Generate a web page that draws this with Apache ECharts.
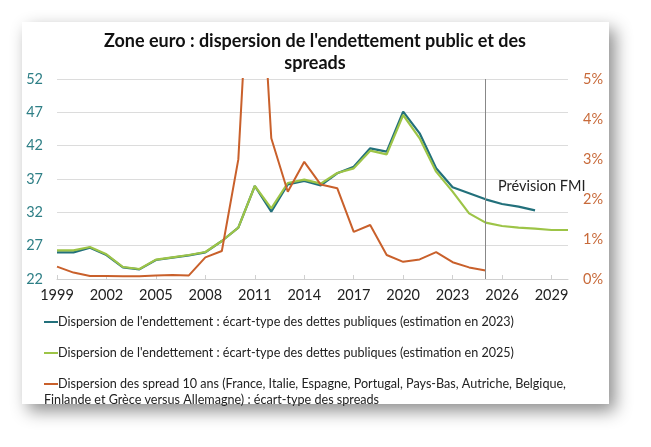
<!DOCTYPE html>
<html>
<head>
<meta charset="utf-8">
<script src="https://cdn.jsdelivr.net/npm/echarts@6/dist/echarts.min.js"></script>
<style>
  html, body { margin: 0; padding: 0; background: #fff; }
  #main { width: 651px; height: 447px; }
</style>
</head>
<body>
<div id="main"></div>
<script>
const years = []
for (let y = 1999; y <= 2030; y++) years.push(String(y))

// dispersion de l'endettement, estimation 2023 (ends 2028), index 0 = 1999
const debt2023 = [26.0, 26.0, 26.7, 25.6, 23.75, 23.45, 24.85, 25.2, 25.55, 26.0,
  27.7, 29.7, 35.95, 32.1, 36.2, 36.7, 36.05, 37.85, 38.85, 41.6,
  41.1, 47.1, 43.85, 38.6, 35.75, 34.85, 33.95, 33.25, 32.85, 32.3, null, null]
// dispersion de l'endettement, estimation 2025
const debt2025 = [26.3, 26.3, 26.8, 25.7, 23.8, 23.5, 24.9, 25.25, 25.6, 26.05,
  27.7, 29.7, 35.95, 32.6, 36.4, 36.9, 36.3, 37.9, 38.6, 41.25,
  40.7, 46.6, 43.1, 38.1, 35.1, 31.85, 30.45, 29.95, 29.7, 29.55, 29.35, 29.35]
// spreads 10 ans (%)
const spreads = [0.31, 0.16, 0.075, 0.075, 0.07, 0.07, 0.09, 0.1, 0.09, 0.54,
  0.7, 2.99, 10.5, 3.52, 2.18, 2.93, 2.36, 2.27, 1.18, 1.35,
  0.6, 0.43, 0.49, 0.67, 0.42, 0.29, 0.21, null, null, null, null, null]

const names = [
  "Dispersion de l'endettement : écart-type des dettes publiques (estimation en 2023)",
  "Dispersion de l'endettement : écart-type des dettes publiques (estimation en 2025)",
  "Dispersion des spread 10 ans (France, Italie, Espagne, Portugal, Pays-Bas, Autriche, Belgique,\nFinlande et Grèce versus Allemagne) : écart-type des spreads"
]
const colors = ['#22707B', '#9DC447', '#C9602B']

const font = 'Lato, "Open Sans", sans-serif'
const myChart = echarts.init(document.getElementById('main'))

const option = {
  animation: false,
  textStyle: { fontFamily: font },
  graphic: [
    {
      type: 'rect',
      left: 22, top: 22, z: -10,
      shape: { width: 587, height: 382 },
      style: { fill: '#fff', shadowBlur: 16, shadowOffsetX: 6, shadowOffsetY: 7, shadowColor: 'rgba(0,0,0,0.45)' }
    },
    {
      type: 'text',
      x: 315, y: 30,
      style: {
        text: "Zone euro : dispersion de l'endettement public et des\nspreads",
        font: 'bold 18px ' + font, fill: '#111', align: 'center', lineHeight: 22
      }
    },
    {
      type: 'text',
      left: 498, top: 179,
      style: { text: 'Prévision FMI', font: '14.5px ' + font, fill: '#222' }
    }
  ],
  grid: { left: 57, right: 83, top: 79, bottom: 168 },
  legend: {
    orient: 'vertical',
    left: 34, top: 309,
    itemWidth: 0, itemHeight: 0, itemGap: 15,
    data: names.map(n => ({ name: n, icon: 'none' })),
    formatter: function (name) {
      const i = names.indexOf(name)
      return '{l' + i + '| }' + name
    },
    textStyle: {
      fontSize: 12.6, color: '#222', lineHeight: 16, fontFamily: font,
      rich: {
        l0: { width: 14, height: 2, backgroundColor: colors[0] },
        l1: { width: 14, height: 2, backgroundColor: colors[1] },
        l2: { width: 14, height: 2, backgroundColor: colors[2] }
      }
    }
  },
  xAxis: {
    type: 'category',
    boundaryGap: false,
    data: years,
    axisLine: { lineStyle: { color: '#d0d0d0' } },
    axisTick: { show: true, interval: 2, inside: true, length: 4, lineStyle: { color: '#d0d0d0' } },
    axisLabel: { interval: 2, color: '#222', fontSize: 14.5, margin: 9 },
    splitLine: { show: false }
  },
  yAxis: [
    {
      type: 'value', min: 22, max: 52, interval: 5,
      axisLine: { show: false }, axisTick: { show: false },
      axisLabel: { color: '#2E7F86', fontSize: 14.5, margin: 14 },
      splitLine: { lineStyle: { color: '#dcdcdc' } }
    },
    {
      type: 'value', min: 0, max: 5, interval: 1,
      axisLine: { show: false }, axisTick: { show: false },
      axisLabel: { color: '#C86A3A', fontSize: 14.5, margin: 15, formatter: '{value}%' },
      splitLine: { show: false }
    }
  ],
  series: [
    {
      name: names[0], type: 'line', data: debt2023, yAxisIndex: 0,
      showSymbol: false, symbol: 'none', lineStyle: { width: 2.2, color: colors[0] }, itemStyle: { color: colors[0] },
      markLine: {
        silent: true, symbol: 'none', label: { show: false },
        lineStyle: { color: '#888', width: 1, type: 'solid' },
        data: [{ xAxis: '2025' }]
      }
    },
    {
      name: names[1], type: 'line', data: debt2025, yAxisIndex: 0,
      showSymbol: false, symbol: 'none', lineStyle: { width: 2.2, color: colors[1] }, itemStyle: { color: colors[1] }
    },
    {
      name: names[2], type: 'line', data: spreads, yAxisIndex: 1, clip: true,
      showSymbol: false, symbol: 'none', lineStyle: { width: 2, color: colors[2] }, itemStyle: { color: colors[2] }
    }
  ]
}

myChart.setOption(option)
</script>
</body>
</html>
